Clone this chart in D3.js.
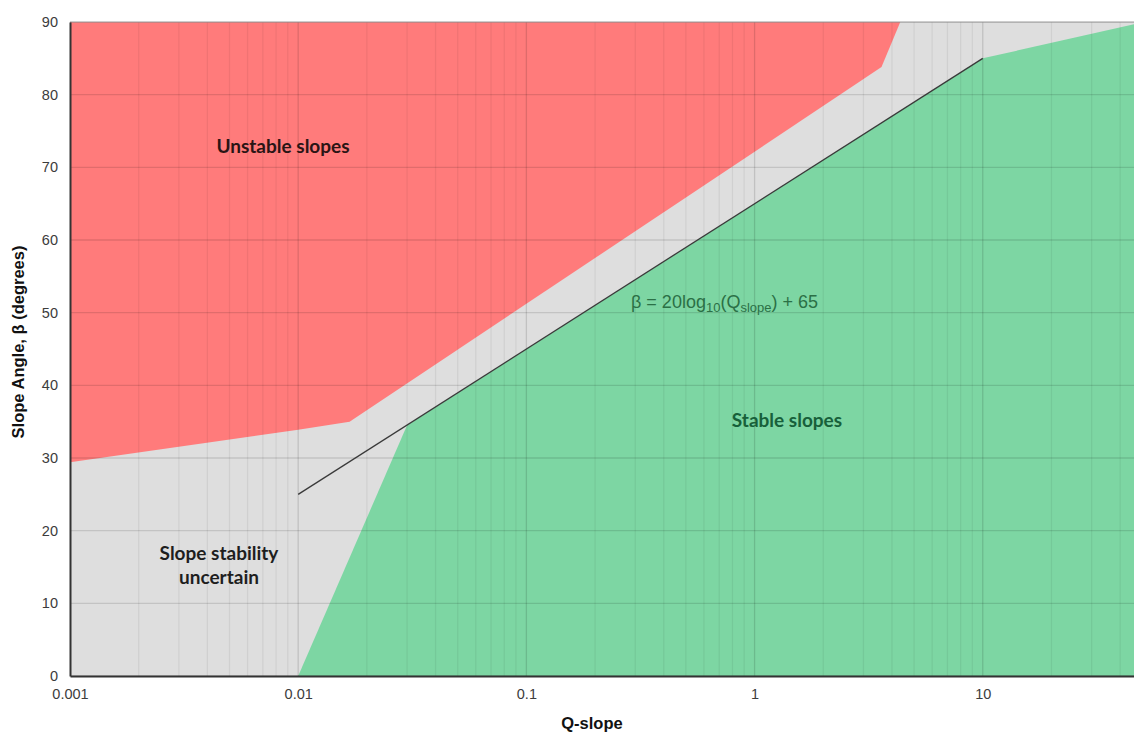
<!DOCTYPE html>
<html>
<head>
<meta charset="utf-8">
<title>Q-slope stability chart</title>
<style>
  body { margin: 0; background: #fff; }
  svg { display: block; }
</style>
<script src="https://cdnjs.cloudflare.com/ajax/libs/d3/7.8.5/d3.min.js"></script>
</head>
<body>
<div id="chart"></div>
<script>
// boundary of the unstable zone (Q-slope, slope angle)
const unstableEdge = [[0.001, 29.4], [0.01, 33.9], [0.0168, 35], [3.6, 83.8], [4.35, 90]];
// boundary of the stable zone
const stableEdge = [[0.01, 0], [0.03, 34.5], [10, 85], [46, 89.7]];
// beta = 20 log10(Q) + 65 line
const lineQ = [0.01, 10];
const xTicks = [0.001, 0.01, 0.1, 1, 10];
const yTicks = [0, 10, 20, 30, 40, 50, 60, 70, 80, 90];

const W = 1134, H = 733;
const margin = { top: 22, right: 0, bottom: 57, left: 70 };

const x = d3.scaleLog().domain([0.001, 46]).range([margin.left, W - margin.right]);
const y = d3.scaleLinear().domain([0, 90]).range([H - margin.bottom, margin.top]);

const svg = d3.select('#chart').append('svg')
  .attr('width', W).attr('height', H);

svg.append('clipPath').attr('id', 'plot')
  .append('rect')
  .attr('x', margin.left).attr('y', margin.top)
  .attr('width', W - margin.left - margin.right)
  .attr('height', H - margin.top - margin.bottom);

const g = svg.append('g').attr('clip-path', 'url(#plot)');

// background = uncertain zone
g.append('rect')
  .attr('x', margin.left).attr('y', margin.top)
  .attr('width', W - margin.left - margin.right)
  .attr('height', H - margin.top - margin.bottom)
  .attr('fill', '#dedede');

const [x0, x1] = x.domain();
const area = d3.line().x(d => x(d[0])).y(d => y(d[1]));

// unstable (red) polygon: edge + top-left corner
const redPoly = unstableEdge.concat([[x0, 90]]);
g.append('path').attr('d', area(redPoly) + 'Z').attr('fill', '#ff7b7b');

// stable (green) polygon: edge + bottom-right corner
const greenPoly = stableEdge.concat([[x1, 0]]);
g.append('path').attr('d', area(greenPoly) + 'Z').attr('fill', '#7dd6a3');

// vertical log grid
const minor = [];
for (let e = -3; e <= 1; e++) {
  for (let m = 1; m <= 9; m++) {
    const v = m * Math.pow(10, e);
    if (v >= x0 && v <= x1) minor.push(v);
  }
}
g.selectAll('.vg').data(minor).join('line')
  .attr('x1', d => x(d)).attr('x2', d => x(d))
  .attr('y1', margin.top).attr('y2', H - margin.bottom)
  .attr('stroke', d => xTicks.includes(d) ? 'rgba(0,0,0,0.13)' : 'rgba(0,0,0,0.06)')
  .attr('stroke-width', 1.3);

// horizontal grid
g.selectAll('.hg').data(yTicks).join('line')
  .attr('x1', margin.left).attr('x2', W)
  .attr('y1', d => y(d)).attr('y2', d => y(d))
  .attr('stroke', 'rgba(0,0,0,0.12)')
  .attr('stroke-width', 1.4);

// fit line
g.append('path')
  .datum(lineQ.map(q => [q, 20 * Math.log10(q) + 65]))
  .attr('d', area)
  .attr('stroke', '#3a3a3a').attr('stroke-width', 1.3).attr('fill', 'none');

// frame
svg.append('line')
  .attr('x1', margin.left).attr('x2', W)
  .attr('y1', margin.top).attr('y2', margin.top)
  .attr('stroke', '#9a9a9a').attr('stroke-width', 1);

// axes
const yAxis = svg.append('g')
  .attr('transform', `translate(${margin.left},0)`)
  .call(d3.axisLeft(y).tickValues(yTicks).tickSize(0).tickPadding(12));
const xAxis = svg.append('g')
  .attr('transform', `translate(0,${H - margin.bottom})`)
  .call(d3.axisBottom(x).tickValues(xTicks).tickFormat(d => String(d)).tickSize(0).tickPadding(13));

[yAxis, xAxis].forEach(a => {
  a.select('.domain').attr('stroke', '#333').attr('stroke-width', 2);
  a.selectAll('text')
    .attr('font-family', 'Liberation Sans, Arial, sans-serif')
    .attr('font-size', 14.5).attr('fill', '#3c3c3c');
});

// axis titles
svg.append('text')
  .attr('transform', `translate(24,342) rotate(-90)`)
  .attr('text-anchor', 'middle')
  .attr('font-family', 'Liberation Sans, Arial, sans-serif')
  .attr('font-weight', 'bold').attr('font-size', 16.5).attr('fill', '#111')
  .text('Slope Angle, β (degrees)');

svg.append('text')
  .attr('x', 592).attr('y', 729)
  .attr('text-anchor', 'middle')
  .attr('font-family', 'Liberation Sans, Arial, sans-serif')
  .attr('font-weight', 'bold').attr('font-size', 16.5).attr('fill', '#111')
  .text('Q-slope');

// zone labels
const lab = (txt, cx, by, col) => svg.append('text')
  .attr('x', cx).attr('y', by).attr('text-anchor', 'middle')
  .attr('font-family', 'Lato, Open Sans, sans-serif')
  .attr('font-weight', 'bold').attr('font-size', 19).attr('fill', col)
  .text(txt);

lab('Unstable slopes', 283, 153, '#2a1515');
lab('Slope stability', 219, 560, '#1e1e1e');
lab('uncertain', 219, 584, '#1e1e1e');
lab('Stable slopes', 787, 427, '#17603a');

// equation
const eq = svg.append('text')
  .attr('x', 631).attr('y', 308)
  .attr('font-family', 'Liberation Sans, Arial, sans-serif')
  .attr('font-size', 18).attr('fill', '#2b7046');
eq.append('tspan').text('β = 20log');
eq.append('tspan').attr('font-size', 13).attr('dy', 4).text('10');
eq.append('tspan').attr('dy', -4).text('(Q');
eq.append('tspan').attr('font-size', 13).attr('dy', 4).text('slope');
eq.append('tspan').attr('dy', -4).text(') + 65');
</script>
</body>
</html>
